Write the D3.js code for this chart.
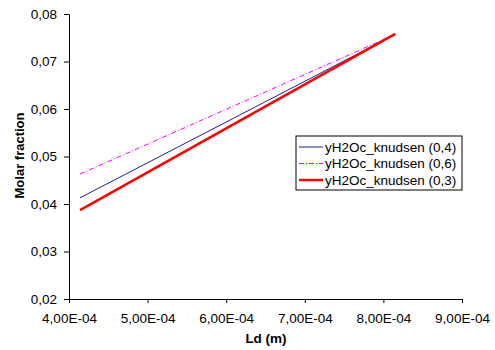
<!DOCTYPE html>
<html>
<head>
<meta charset="utf-8">
<script src="https://cdn.jsdelivr.net/npm/d3@7"></script>
<style>
  html, body { margin: 0; padding: 0; background: #fff; }
  svg { display: block; font-family: "Liberation Sans", Arial, sans-serif; }
</style>
</head>
<body>
<svg id="chart" width="495" height="350"></svg>
<script>
// Diffusion length Ld (m) at each computed point
const ld = [4.14e-4, 8.15e-4];

// Molar fraction of water, Knudsen model, for three porosity values
const y04 = [0.0413, 0.0757];
const y06 = [0.0463, 0.0757];
const y03 = [0.0387, 0.0758];

const seriesNames = ["yH2Oc_knudsen (0,4)", "yH2Oc_knudsen (0,6)", "yH2Oc_knudsen (0,3)"];
const seriesColors = ["#1f1f8f", "#ff00ff", "#ff0000"];
const seriesWidths = [1, 1, 2.5];
const seriesDash = [null, "5,2,1,2", null];
const seriesValues = [y04, y06, y03];

const xTicks = [4e-4, 5e-4, 6e-4, 7e-4, 8e-4, 9e-4];
const yTicks = [0.02, 0.03, 0.04, 0.05, 0.06, 0.07, 0.08];

const svg = d3.select("#chart");
const plotLeft = 69, plotRight = 462, plotTop = 14, plotBottom = 299;

const x = d3.scaleLinear().domain([4e-4, 9e-4]).range([plotLeft, plotRight]);
const y = d3.scaleLinear().domain([0.02, 0.08]).range([plotBottom, plotTop]);

const fmtX = v => v.toExponential(2).replace(".", ",").replace("e-", "E-0");
const fmtY = v => v.toFixed(2).replace(".", ",");

// Axes
const xAxis = svg.append("g")
  .attr("transform", `translate(0,${plotBottom})`)
  .call(d3.axisBottom(x).tickValues(xTicks).tickFormat(fmtX).tickSize(4).tickSizeOuter(0).tickPadding(10));
const yAxis = svg.append("g")
  .attr("transform", `translate(${plotLeft},0)`)
  .call(d3.axisLeft(y).tickValues(yTicks).tickFormat(fmtY).tickSize(5).tickSizeOuter(0).tickPadding(7));

[xAxis, yAxis].forEach(a => {
  a.selectAll("path, line").attr("stroke", "#000").attr("stroke-width", 1);
  a.selectAll("text").attr("fill", "#000").style("font-size", "13.5px")
    .style("font-family", "'Liberation Sans', Arial, sans-serif");
});

// Axis titles
svg.append("text")
  .attr("x", 266).attr("y", 343)
  .attr("text-anchor", "middle")
  .style("font-size", "13.5px").style("font-weight", "bold")
  .text("Ld (m)");
svg.append("text")
  .attr("transform", "translate(24,155.5) rotate(-90)")
  .attr("text-anchor", "middle")
  .style("font-size", "13px").style("font-weight", "bold")
  .text("Molar fraction");

// Series lines
const line = d3.line().x((d, i) => x(ld[i])).y(d => y(d));
const drawOrder = [1, 0, 2];
drawOrder.forEach(k => {
  const p = svg.append("path")
    .datum(seriesValues[k])
    .attr("d", line)
    .attr("fill", "none")
    .attr("stroke", seriesColors[k])
    .attr("stroke-width", seriesWidths[k]);
  if (seriesDash[k]) p.attr("stroke-dasharray", seriesDash[k]);
});

// Legend
const lg = svg.append("g").attr("transform", "translate(296,136)");
lg.append("rect").attr("width", 166).attr("height", 54)
  .attr("fill", "#fff").attr("stroke", "#000").attr("stroke-width", 1);
seriesNames.forEach((name, k) => {
  const yy = 11 + k * 16.5;
  const l = lg.append("line")
    .attr("x1", 3).attr("x2", 27).attr("y1", yy).attr("y2", yy)
    .attr("stroke", seriesColors[k]).attr("stroke-width", seriesWidths[k]);
  if (seriesDash[k]) l.attr("stroke-dasharray", seriesDash[k]);
  lg.append("text")
    .attr("x", 29).attr("y", yy + 4.5)
    .style("font-size", "13.5px")
    .text(name);
});
</script>
</body>
</html>
